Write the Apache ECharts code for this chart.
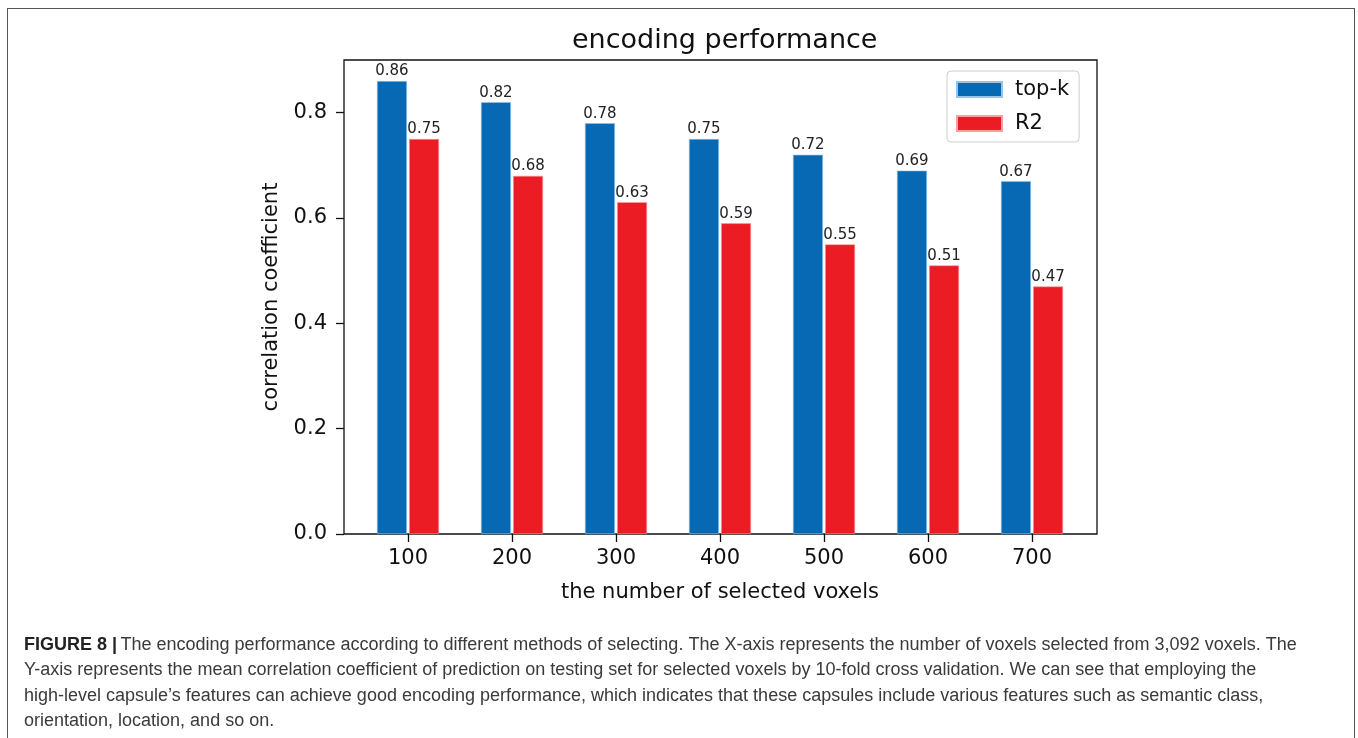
<!DOCTYPE html>
<html>
<head>
<meta charset="utf-8">
<script src="https://cdn.jsdelivr.net/npm/echarts@6/dist/echarts.min.js"></script>
<style>
html,body{margin:0;padding:0;background:#fff;overflow:hidden;}
#chart{width:1358px;height:738px;position:relative;}
#frame{position:absolute;left:7px;top:8px;width:1348px;height:740px;border:1.5px solid #555;border-bottom:none;pointer-events:none;box-sizing:border-box;}
</style>
</head>
<body>
<div id="chart"></div>
<div id="frame"></div>
<script>
const categories = ['100','200','300','400','500','600','700'];
const topK = [0.86, 0.82, 0.78, 0.75, 0.72, 0.69, 0.67];
const r2 = [0.75, 0.68, 0.63, 0.59, 0.55, 0.51, 0.47];
const yTickMax = 0.8;
const yMax = 0.9;
const captionLines = [
  'The encoding performance according to different methods of selecting. The X-axis represents the number of voxels selected from 3,092 voxels. The',
  'Y-axis represents the mean correlation coefficient of prediction on testing set for selected voxels by 10-fold cross validation. We can see that employing the',
  'high-level capsule\u2019s features can achieve good encoding performance, which indicates that these capsules include various features such as semantic class,',
  'orientation, location, and so on.'
];

const font = 'DejaVu Sans';
const chart = echarts.init(document.getElementById('chart'), null, {renderer:'canvas'});
const labelStyle = {show:true, position:'top', distance:2, fontFamily:font, fontSize:15, color:'#222', formatter: p => p.value.toFixed(2)};

// plot frame geometry
const gTop = 60, gBottom = 204, gLeft = 344, gRight = 261;
const plotH = 738 - gTop - gBottom;
const tickGridTop = gTop + plotH * (yMax - yTickMax) / yMax;

const capFont = 'Liberation Sans Narrow, Liberation Sans';
chart.setOption({
  animation:false,
  backgroundColor:'#fff',
  title:{text:'encoding performance', left:567, top:22, textStyle:{fontFamily:font, fontSize:27, fontWeight:'normal', color:'#111'}},
  legend:{
    orient:'vertical', left:947, top:71, width:120,
    padding:[8,10,8,9], itemGap:13, itemWidth:45, itemHeight:15,
    borderColor:'rgba(0,0,0,0.2)', borderWidth:1, borderRadius:4,
    textStyle:{fontFamily:font, fontSize:21, color:'#111', padding:[0,0,0,8], lineHeight:20},
    icon:'rect',
    data:['top-k','R2']
  },
  grid:[
    {left:gLeft, right:gRight, top:gTop, bottom:gBottom, show:true, borderColor:'#111', borderWidth:1.3, backgroundColor:'transparent'},
    {left:356, right:274, top:gTop, bottom:gBottom},
    {left:gLeft, right:gRight, top:tickGridTop, bottom:gBottom}
  ],
  xAxis:[
    {gridIndex:0, type:'value', min:0, max:1, axisLine:{show:false}, axisTick:{show:false}, axisLabel:{show:false}, splitLine:{show:false}},
    {gridIndex:1, type:'category', data:categories, boundaryGap:true,
     axisLine:{show:false},
     axisTick:{show:true, alignWithLabel:true, length:8, lineStyle:{color:'#111', width:1.3}},
     axisLabel:{fontFamily:font, fontSize:21, color:'#111', margin:14},
     name:'the number of selected voxels', nameLocation:'middle', nameGap:48,
     nameTextStyle:{fontFamily:font, fontSize:21, color:'#111'}},
    {gridIndex:2, type:'value', min:0, max:1, show:false}
  ],
  yAxis:[
    {gridIndex:0, type:'value', min:0, max:yMax,
     axisLine:{show:false}, axisTick:{show:false}, axisLabel:{show:false}, splitLine:{show:false},
     name:'correlation coefficient', nameLocation:'middle', nameGap:62,
     nameTextStyle:{fontFamily:font, fontSize:21, color:'#111'}},
    {gridIndex:1, type:'value', min:0, max:yMax, show:false, splitLine:{show:false}},
    {gridIndex:2, type:'value', min:0, max:yTickMax, interval:0.2,
     axisLine:{show:false},
     axisTick:{show:true, length:8, lineStyle:{color:'#111', width:1.3}},
     axisLabel:{fontFamily:font, fontSize:21, color:'#111', margin:17, formatter: v => v.toFixed(1)},
     splitLine:{show:false}}
  ],
  series:[
    {name:'top-k', type:'bar', xAxisIndex:1, yAxisIndex:1, data:topK, barWidth:30, barGap:'7%',
     itemStyle:{color:'#0768B4', borderColor:'#9cc3e6', borderWidth:0.6}, label:labelStyle},
    {name:'R2', type:'bar', xAxisIndex:1, yAxisIndex:1, data:r2, barWidth:30, barGap:'7%',
     itemStyle:{color:'#EC1C24', borderColor:'#f5a0a3', borderWidth:0.6}, label:labelStyle}
  ],
  graphic:[
    {type:'text', left:24, top:636, style:{
      rich:{b:{fontFamily:capFont, fontSize:18, fontWeight:'bold', fill:'#222', lineHeight:25.5},
            n:{fontFamily:capFont, fontSize:18, fill:'#3a3a3a', lineHeight:25.5}},
      text:'{b|FIGURE 8 |} {n|' + captionLines[0] + '}\n{n|' + captionLines[1] + '}\n{n|' + captionLines[2] + '}\n{n|' + captionLines[3] + '}'
    }}
  ]
});
</script>
</body>
</html>
